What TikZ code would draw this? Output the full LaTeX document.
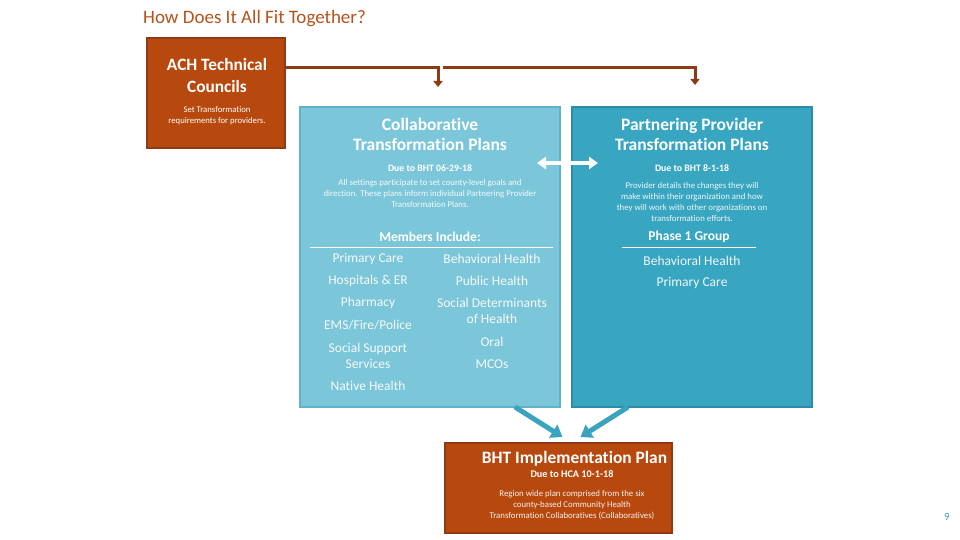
\documentclass[tikz,border=0pt]{standalone}
\usepackage{fontspec}
\setmainfont{Carlito}[Ligatures=NoCommon]
\usetikzlibrary{arrows.meta,calc}
\definecolor{orng}{HTML}{B7490F}
\definecolor{orngb}{HTML}{8F3A12}
\definecolor{lblue}{HTML}{7CC6D9}
\definecolor{lblueb}{HTML}{5FB2C7}
\definecolor{dblue}{HTML}{38A5C1}
\definecolor{dblueb}{HTML}{2C8CA8}
\definecolor{conncol}{HTML}{8C3B14}
\definecolor{titlecol}{HTML}{B5531C}
\definecolor{arrcol}{HTML}{3AA3C0}
\newcommand{\fs}[2]{\fontsize{#1}{#2}\selectfont}
\begin{document}
\begin{tikzpicture}[x=1pt,y=-1pt,
  box/.style={draw, line width=1.2pt, inner sep=0pt, outer sep=0pt},
  orbox/.style={box, fill=orng, draw=orngb},
  lbbox/.style={box, fill=lblue, draw=lblueb},
  dbbox/.style={box, fill=dblue, draw=dblueb},
  txt/.style={text=white, align=center, inner sep=0pt},
  item/.style={txt, text=white!92!lblue, font=\fs{13.5}{16}},
  conn/.style={draw=conncol, line width=3pt, -{Triangle[length=6pt,width=9pt]}},
  barrow/.style={draw=arrcol, line width=5pt, -{Triangle[length=11pt,width=15pt]}},
  warrow/.style={draw=white, line width=4pt, {Triangle[length=9pt,width=12pt]}-{Triangle[length=9pt,width=12pt]}},
  sep/.style={draw=white, line width=0.8pt}
]
\useasboundingbox (0,0) rectangle (960,540);
\fill[white] (0,0) rectangle (960,540);

% title
\node[anchor=west, text=titlecol, inner sep=0pt] (title) at (143,19) {\fs{19}{22}How Does It All Fit Together?};

% boxes
\node[orbox, minimum width=138pt, minimum height=110pt] (ach) at (216,93) {};
\node[lbbox, minimum width=260pt, minimum height=300pt] (collab) at (430,257) {};
\node[dbbox, minimum width=240pt, minimum height=300pt] (partner) at (692,257) {};
\node[orbox, minimum width=227pt, minimum height=90pt] (impl) at (558.5,488) {};

% connectors from ACH
\coordinate (j1) at (438,68);
\coordinate (d1) at (438,87);
\coordinate (j2) at (443,68);
\coordinate (k2) at (695,68);
\coordinate (d2) at (695,85);
\draw[conn] (ach.east |- j1) -- (j1) -- (d1);
\draw[conn] (j2) -- (k2) -- (d2);

% double arrow
\draw[warrow] ($(collab.north east)+(-23,56)$) -- ($(partner.north west)+(26,56)$);

% blue arrows
\draw[barrow] ([xshift=-45pt]collab.south east) -- ([xshift=4pt,yshift=6pt]impl.north);
\draw[barrow] ([xshift=56pt]partner.south west) -- ([xshift=22pt,yshift=6pt]impl.north);

% ACH text
\node[txt, font=\bfseries\fs{17.3}{22}] (achT) at (217,75) {ACH Technical\\Councils};
\node[txt, font=\fs{8.7}{11}] (achD) at (217,115.5) {Set Transformation\\requirements for providers.};

% Collaborative text
\node[txt, font=\bfseries\fs{17.5}{20}] (colT) at (430,134) {Collaborative\\Transformation Plans};
\node[txt, font=\bfseries\fs{9.8}{11}] (colDue) at (430,168) {Due to BHT 06-29-18};
\node[txt, text=white!92!lblue, font=\fs{8.8}{11}] (colD) at (430,193) {All settings participate to set county-level goals and\\direction. These plans inform individual Partnering Provider\\Transformation Plans.};
\node[txt, font=\bfseries\fs{13.5}{15}] (colM) at (430,237) {Members Include:};
\draw[sep] (310,247) -- (553,247);
\node[item] (m1) at (368,259) {Primary Care};
\node[item] (m2) at (368,281) {Hospitals \& ER};
\node[item] (m3) at (368,303) {Pharmacy};
\node[item] (m4) at (368,325) {EMS/Fire/Police};
\node[item] (m5) at (368,356) {Social Support\\Services};
\node[item] (m6) at (368,386) {Native Health};
\node[item] (r1) at (492,259) {Behavioral Health};
\node[item] (r2) at (492,281) {Public Health};
\node[item] (r3) at (492,311) {Social Determinants\\of Health};
\node[item] (r4) at (492,342) {Oral};
\node[item] (r5) at (492,364) {MCOs};

% Partnering text
\node[txt, font=\bfseries\fs{17.5}{20}] (parT) at (692,134) {Partnering Provider\\Transformation Plans};
\node[txt, font=\bfseries\fs{9.8}{11}] (parDue) at (692,168) {Due to BHT 8-1-18};
\node[txt, text=white!92!dblue, font=\fs{8.8}{11}] (parD) at (692,201.5) {Provider details the changes they will\\make within their organization and how\\they will work with other organizations on\\transformation efforts.};
\node[txt, font=\bfseries\fs{13.5}{15}] (parP) at (689,237) {Phase 1 Group};
\draw[sep] (622,247) -- (756,247);
\node[item, text=white!92!dblue] (p1) at (692,261) {Behavioral Health};
\node[item, text=white!92!dblue] (p2) at (692,283) {Primary Care};

% Implementation text
\node[txt, font=\bfseries\fs{17.4}{20}] (impT) at (574.5,459) {BHT Implementation Plan};
\node[txt, font=\bfseries\fs{10.2}{11}] (impDue) at (572,474) {Due to HCA 10-1-18};
\node[txt, text=white!92!orng, font=\fs{8.8}{11}] (impD) at (572,505) {Region wide plan comprised from the six\\county-based Community Health\\Transformation Collaboratives (Collaboratives)};

% page number
\node[text=arrcol, inner sep=0pt, font=\fs{11}{12}] (pg) at (947,517) {9};
\end{tikzpicture}
\end{document}
